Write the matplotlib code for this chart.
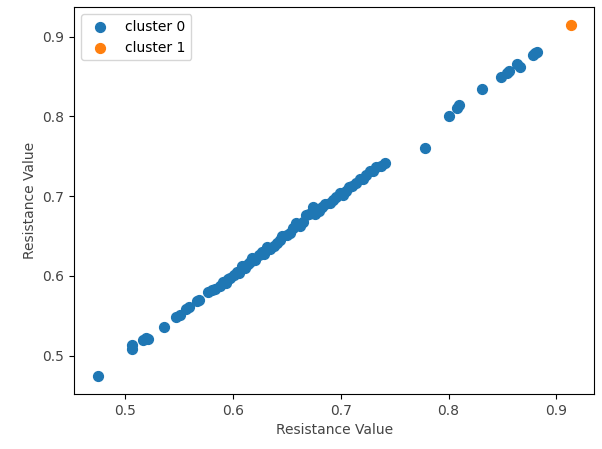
import numpy as np
import matplotlib
matplotlib.use("Agg")
import matplotlib.pyplot as plt

# cluster 0 (x, y)
x0 = [0.475, 0.5065, 0.507, 0.517, 0.520, 0.522, 0.536, 0.548, 0.551, 0.557,
      0.560, 0.567, 0.569, 0.577, 0.581, 0.584, 0.588, 0.591, 0.594, 0.596,
      0.598, 0.601, 0.604, 0.606, 0.609, 0.611, 0.614, 0.616, 0.618, 0.621,
      0.624, 0.627, 0.629, 0.632, 0.635, 0.638, 0.641, 0.644, 0.646, 0.650,
      0.653, 0.656, 0.659, 0.662, 0.665, 0.668, 0.671, 0.674, 0.676, 0.680,
      0.683, 0.686, 0.690, 0.693, 0.696, 0.699, 0.702, 0.705, 0.708, 0.711,
      0.714, 0.718, 0.721, 0.724, 0.727, 0.730, 0.733, 0.737, 0.741,
      0.778, 0.800, 0.808, 0.810, 0.831, 0.849, 0.854, 0.856, 0.863, 0.866,
      0.878, 0.880, 0.882]
y0 = [0.474, 0.509, 0.513, 0.520, 0.522, 0.521, 0.536, 0.548, 0.551, 0.558,
      0.561, 0.568, 0.570, 0.580, 0.582, 0.584, 0.587, 0.593, 0.591, 0.596,
      0.598, 0.601, 0.605, 0.604, 0.612, 0.610, 0.615, 0.617, 0.622, 0.620,
      0.626, 0.630, 0.628, 0.636, 0.634, 0.638, 0.641, 0.645, 0.650, 0.651,
      0.654, 0.660, 0.666, 0.663, 0.668, 0.676, 0.678, 0.686, 0.678, 0.682,
      0.686, 0.690, 0.692, 0.695, 0.699, 0.704, 0.702, 0.707, 0.712, 0.713,
      0.716, 0.721, 0.722, 0.726, 0.731, 0.731, 0.737, 0.738, 0.742,
      0.761, 0.801, 0.811, 0.815, 0.835, 0.850, 0.855, 0.857, 0.866, 0.862,
      0.877, 0.880, 0.881]

# cluster 1
x1 = [0.913]
y1 = [0.915]

fig = plt.figure(figsize=(6.02, 4.49), dpi=100)
ax = fig.add_axes([0.123, 0.1225, 0.864, 0.8615])

ax.scatter(x0, y0, s=50, c="#1f77b4", label="cluster 0")
ax.scatter(x1, y1, s=50, c="#ff7f0e", label="cluster 1")

ax.set_xticks([0.5, 0.6, 0.7, 0.8, 0.9])
ax.set_yticks([0.5, 0.6, 0.7, 0.8, 0.9])
ax.set_xlabel("Resistance Value", color="#444444")
ax.set_ylabel("Resistance Value", color="#444444")
ax.tick_params(labelcolor="#444444")
ax.legend(loc="upper left")

fig.savefig("out.png", dpi=100)
